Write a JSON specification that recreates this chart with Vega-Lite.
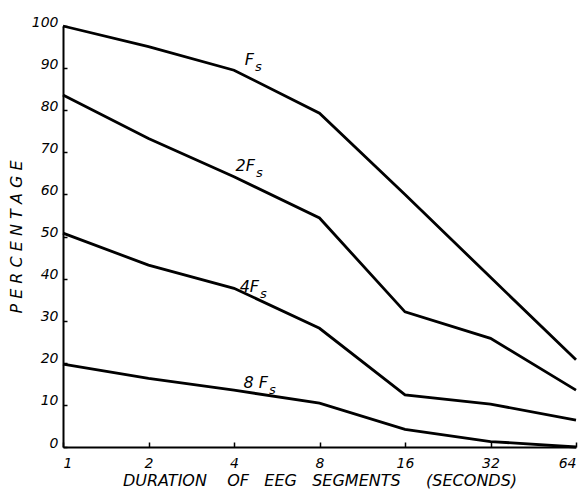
{
  "$schema": "https://vega.github.io/schema/vega-lite/v6.json",
  "width": 513,
  "height": 421,
  "autosize": "none",
  "padding": {"left": 63, "top": 26, "right": 6, "bottom": 49},
  "background": "white",
  "config": {
    "view": {"stroke": null},
    "font": "DejaVu Sans",
    "axis": {
      "grid": false,
      "domainColor": "black",
      "domainWidth": 2,
      "tickColor": "black",
      "tickWidth": 1.5,
      "labelColor": "black",
      "titleColor": "black",
      "labelFont": "DejaVu Sans",
      "titleFont": "DejaVu Sans",
      "labelFontStyle": "italic",
      "titleFontStyle": "italic",
      "titleFontWeight": "normal",
      "labelFontSize": 14,
      "titleFontSize": 16
    }
  },
  "datasets": {
    "lines": [
      {"series": "Fs", "x": 1, "y": 100},
      {"series": "Fs", "x": 2, "y": 95.1},
      {"series": "Fs", "x": 4, "y": 89.5},
      {"series": "Fs", "x": 8, "y": 79.3},
      {"series": "Fs", "x": 16, "y": 60},
      {"series": "Fs", "x": 32, "y": 40.3},
      {"series": "Fs", "x": 64, "y": 20.7},
      {"series": "2Fs", "x": 1, "y": 83.6},
      {"series": "2Fs", "x": 2, "y": 73.3},
      {"series": "2Fs", "x": 4, "y": 64.2},
      {"series": "2Fs", "x": 8, "y": 54.4},
      {"series": "2Fs", "x": 16, "y": 32.1},
      {"series": "2Fs", "x": 32, "y": 25.8},
      {"series": "2Fs", "x": 64, "y": 13.5},
      {"series": "4Fs", "x": 1, "y": 50.8},
      {"series": "4Fs", "x": 2, "y": 43.2},
      {"series": "4Fs", "x": 4, "y": 37.7},
      {"series": "4Fs", "x": 8, "y": 28.2},
      {"series": "4Fs", "x": 16, "y": 12.4},
      {"series": "4Fs", "x": 32, "y": 10.2},
      {"series": "4Fs", "x": 64, "y": 6.4},
      {"series": "8Fs", "x": 1, "y": 19.7},
      {"series": "8Fs", "x": 2, "y": 16.3},
      {"series": "8Fs", "x": 4, "y": 13.5},
      {"series": "8Fs", "x": 8, "y": 10.4},
      {"series": "8Fs", "x": 16, "y": 4.2},
      {"series": "8Fs", "x": 32, "y": 1.3},
      {"series": "8Fs", "x": 64, "y": 0}
    ],
    "labels": [
      {"main": "F", "sub": "s", "x": 4.70, "y": 90.7},
      {"main": "2F", "sub": "s", "x": 4.74, "y": 65.6},
      {"main": "4F", "sub": "s", "x": 4.90, "y": 36.9},
      {"main": "8 F", "sub": "s", "x": 5.27, "y": 14.1}
    ]
  },
  "layer": [
    {
      "data": {"name": "lines"},
      "mark": {"type": "line", "color": "black", "strokeWidth": 2.8, "clip": false},
      "encoding": {
        "x": {
          "field": "x",
          "type": "quantitative",
          "scale": {"type": "log", "base": 2, "domain": [1, 64], "nice": false},
          "axis": {
            "values": [1, 2, 4, 8, 16, 32, 64],
            "format": "d",
            "tickSize": -5,
            "labelPadding": 14,
            "title": "DURATION\u00a0\u00a0\u00a0\u00a0OF\u00a0\u00a0\u00a0EEG\u00a0\u00a0\u00a0SEGMENTS\u00a0\u00a0\u00a0\u00a0\u00a0(SECONDS)",
            "titlePadding": 2
          }
        },
        "y": {
          "field": "y",
          "type": "quantitative",
          "scale": {"domain": [0, 100], "nice": false},
          "axis": {
            "values": [0, 10, 20, 30, 40, 50, 60, 70, 80, 90, 100],
            "tickSize": -4,
            "labelPadding": 9,
            "labelBaseline": "alphabetic",
            "title": "P E R C E N T A G E",
            "titleFontSize": 16,
            "titlePadding": 7
          }
        },
        "detail": {"field": "series"}
      }
    },
    {
      "data": {"name": "labels"},
      "mark": {"type": "text", "align": "right", "baseline": "alphabetic", "fontSize": 16, "fontStyle": "italic", "font": "DejaVu Sans", "color": "black"},
      "encoding": {
        "x": {"field": "x", "type": "quantitative"},
        "y": {"field": "y", "type": "quantitative"},
        "text": {"field": "main"}
      }
    },
    {
      "data": {"name": "labels"},
      "mark": {"type": "text", "align": "left", "baseline": "alphabetic", "fontSize": 13, "fontStyle": "italic", "font": "DejaVu Sans", "color": "black", "dx": 1, "dy": 6},
      "encoding": {
        "x": {"field": "x", "type": "quantitative"},
        "y": {"field": "y", "type": "quantitative"},
        "text": {"field": "sub"}
      }
    }
  ]
}
